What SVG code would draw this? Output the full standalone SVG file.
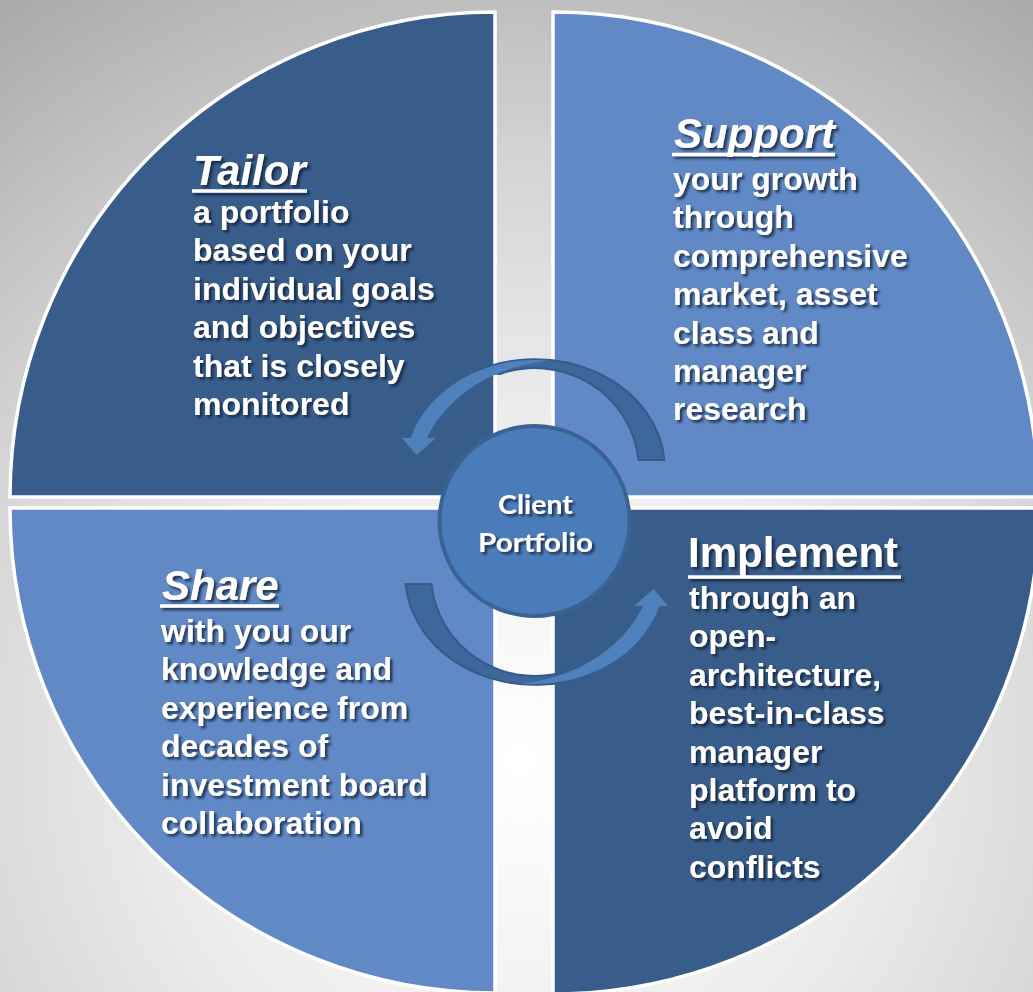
<svg xmlns="http://www.w3.org/2000/svg" xmlns:xlink="http://www.w3.org/1999/xlink" width="1033" height="992" viewBox="0 0 1033 992">
  <defs>
    <radialGradient id="bg" gradientUnits="userSpaceOnUse" cx="520" cy="760" r="1000">
      <stop offset="0" stop-color="#ffffff"/>
      <stop offset="0.35" stop-color="#ececec"/>
      <stop offset="0.6" stop-color="#d4d4d4"/>
      <stop offset="1" stop-color="#9e9e9e"/>
    </radialGradient>
    <filter id="ts" x="-10%" y="-10%" width="130%" height="130%">
      <feDropShadow dx="2.5" dy="2.5" stdDeviation="1.3" flood-color="#0a1a30" flood-opacity="0.75"/>
    </filter>
    <g id="arrow">
      <path class="band" d="M664.5,460 A130,110 0 0 0 474,372 L500,374 A104,102 0 0 1 638.5,460 Z"/>
      <path class="shaft" d="M548,360.5 A130,110 0 0 0 410.6,438 L402,438 L416.5,455 L436,438 L427,438 C445,400 488,367 548,360.5 Z"/>
    </g>
  </defs>
  <style>
    .quad { stroke: #ffffff; stroke-width: 3.5; }
    .dark { fill: #385d8a; }
    .light { fill: #6089c5; }
    .band { fill: #3e679b; stroke: #365b8b; stroke-width: 2; stroke-linejoin: round; }
    .shaft { fill: #4f81bd; }
    .txt { fill: #ffffff; font-family: "Liberation Sans", Arial, sans-serif; font-weight: bold; }
    .title { font-size: 42px; }
    .it { font-style: italic; }
    .body { font-size: 32px; }
    .ul { stroke: #ffffff; stroke-width: 3.5; }
    .center { fill: #ffffff; font-family: Lato, "Open Sans", sans-serif; font-weight: bold; font-size: 26px; }
  </style>
  <rect width="1033" height="992" fill="url(#bg)"/>

  <g id="tailor">
    <path class="quad dark" d="M495,497 L10,497 A485,485 0 0 1 495,12 Z"/>
    <g class="txt" filter="url(#ts)">
      <text class="title it" x="193" y="185">Tailor</text>
      <line class="ul" x1="192" y1="191" x2="307" y2="191"/>
      <text class="body">
        <tspan x="193" y="223">a portfolio</tspan>
        <tspan x="193" y="261.4">based on your</tspan>
        <tspan x="193" y="299.8">individual goals</tspan>
        <tspan x="193" y="338.2">and objectives</tspan>
        <tspan x="193" y="376.6">that is closely</tspan>
        <tspan x="193" y="415">monitored</tspan>
      </text>
    </g>
  </g>

  <g id="support">
    <path class="quad light" d="M553,497 L553,12 A485,485 0 0 1 1038,497 Z"/>
    <g class="txt" filter="url(#ts)">
      <text class="title it" x="674" y="148">Support</text>
      <line class="ul" x1="672" y1="154.5" x2="835" y2="154.5"/>
      <text class="body">
        <tspan x="673" y="190">your growth</tspan>
        <tspan x="673" y="228.4">through</tspan>
        <tspan x="673" y="266.8">comprehensive</tspan>
        <tspan x="673" y="305.2">market, asset</tspan>
        <tspan x="673" y="343.6">class and</tspan>
        <tspan x="673" y="382">manager</tspan>
        <tspan x="673" y="420.4">research</tspan>
      </text>
    </g>
  </g>

  <g id="share">
    <path class="quad light" d="M495,508 L495,993 A485,485 0 0 1 10,508 Z"/>
    <g class="txt" filter="url(#ts)">
      <text class="title it" x="162" y="600">Share</text>
      <line class="ul" x1="160" y1="606" x2="279" y2="606"/>
      <text class="body">
        <tspan x="161" y="642">with you our</tspan>
        <tspan x="161" y="680.4">knowledge and</tspan>
        <tspan x="161" y="718.8">experience from</tspan>
        <tspan x="161" y="757.2">decades of</tspan>
        <tspan x="161" y="795.6">investment board</tspan>
        <tspan x="161" y="834">collaboration</tspan>
      </text>
    </g>
  </g>

  <g id="implement">
    <path class="quad dark" d="M553,508 L1039,508 A486,486 0 0 1 553,994 Z"/>
    <g class="txt" filter="url(#ts)">
      <text class="title" x="688" y="567">Implement</text>
      <line class="ul" x1="688" y1="577" x2="901" y2="577"/>
      <text class="body">
        <tspan x="689" y="609">through an</tspan>
        <tspan x="689" y="647.4">open-</tspan>
        <tspan x="689" y="685.8">architecture,</tspan>
        <tspan x="689" y="724.2">best-in-class</tspan>
        <tspan x="689" y="762.6">manager</tspan>
        <tspan x="689" y="801">platform to</tspan>
        <tspan x="689" y="839.4">avoid</tspan>
        <tspan x="689" y="877.8">conflicts</tspan>
      </text>
    </g>
  </g>

  <g id="connectors">
    <use xlink:href="#arrow" href="#arrow"/>
    <use xlink:href="#arrow" href="#arrow" transform="rotate(180 535 522)"/>
  </g>

  <g id="client-portfolio">
    <circle cx="534.5" cy="521" r="95" fill="#4a7cb9" stroke="#3a6394" stroke-width="4"/>
    <g filter="url(#ts)">
      <text class="center" x="535.5" y="514" text-anchor="middle" textLength="75" lengthAdjust="spacingAndGlyphs">Client</text>
      <text class="center" x="535.5" y="552" text-anchor="middle" textLength="115" lengthAdjust="spacingAndGlyphs">Portfolio</text>
    </g>
  </g>
</svg>
